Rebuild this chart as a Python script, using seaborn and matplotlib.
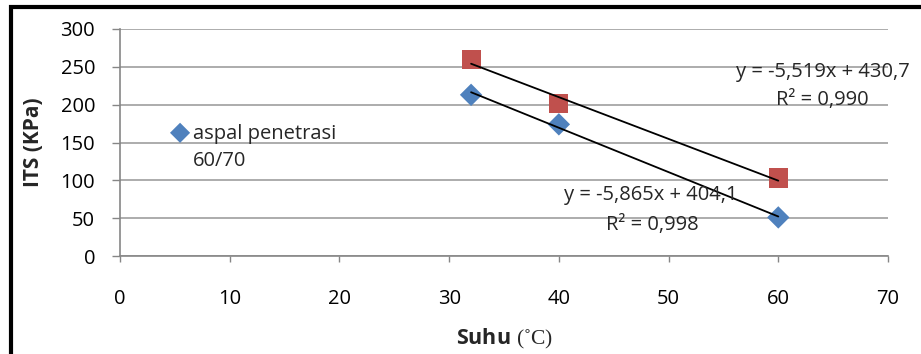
import matplotlib
matplotlib.use("Agg")
import matplotlib.pyplot as plt
import seaborn as sns
import numpy as np
import pandas as pd
from matplotlib.patches import Rectangle

# ---- data ----
suhu = [32, 40, 60]
its_blue = [213, 174, 51]      # aspal penetrasi 60/70
its_red = [260, 201, 103]
trend_slope = [-5.865, -5.519]
trend_intercept = [404.1, 430.7]
eq_lines = ["y = -5,865x + 404,1", "y = -5,519x + 430,7"]
r2_lines = ["R² = 0,998", "R² = 0,990"]
legend_label = "aspal penetrasi\n60/70"
x_ticks = [0, 10, 20, 30, 40, 50, 60, 70]
y_ticks = [0, 50, 100, 150, 200, 250, 300]

BLUE = "#4F81BD"
RED = "#C0504D"
GRID = "#A6A6A6"
AXC = "#868686"
FS = 14.5

sns.set_theme(style="white")
plt.rcParams["font.family"] = ["Open Sans", "DejaVu Sans"]
plt.rcParams["mathtext.fontset"] = "custom"
plt.rcParams["mathtext.rm"] = "Liberation Serif"

W, H = 921, 354
L, R, T, B = 120, 888, 29, 256
fig = plt.figure(figsize=(W/100, H/100), dpi=100)
ax = fig.add_axes([L/W, 1-B/H, (R-L)/W, (B-T)/H])


def px2data(px, py):
    return (px - L) / (R - L) * 70, (B - py) / (B - T) * 300


df_b = pd.DataFrame({"x": suhu, "y": its_blue})
df_r = pd.DataFrame({"x": suhu, "y": its_red})

sns.scatterplot(data=df_b, x="x", y="y", ax=ax, marker="D", s=130, color=BLUE,
                edgecolor="none", label=legend_label, zorder=3)
sns.scatterplot(data=df_r, x="x", y="y", ax=ax, marker="s", s=190, color=RED,
                edgecolor="none", zorder=3, legend=False)

# linear trend lines
for m, c in zip(trend_slope, trend_intercept):
    xs = np.array([min(suhu), max(suhu)])
    dft = pd.DataFrame({"x": xs, "y": m * xs + c})
    sns.lineplot(data=dft, x="x", y="y", ax=ax, color="black", linewidth=1.3,
                 zorder=4, legend=False)

ax.set_xlim(0, 70)
ax.set_ylim(0, 300)
ax.set_xticks(x_ticks)
ax.set_yticks(y_ticks)
ax.yaxis.grid(True, color=GRID, linewidth=1.3)
ax.xaxis.grid(False)
ax.set_axisbelow(True)
for s in ["top", "right"]:
    ax.spines[s].set_visible(False)
for s in ["left", "bottom"]:
    ax.spines[s].set_color(AXC)
    ax.spines[s].set_linewidth(1.2)
ax.tick_params(axis="y", direction="out", length=6, width=1, color=AXC,
               labelsize=FS, pad=12, left=True, labelcolor="black")
ax.tick_params(axis="x", direction="out", length=4, width=1, color=AXC,
               labelsize=FS, pad=20, bottom=True, labelcolor="black")

ax.set_ylabel("ITS (KPa)", fontsize=15, fontweight="bold")
ax.yaxis.set_label_coords(-(L-44)/(R-L), 0.5)
ax.set_xlabel(r"Suhu$\;\mathrm{(˚C)}$", fontsize=15.5, fontweight="bold")
ax.xaxis.set_label_coords((504-L)/(R-L), -(327-B)/(B-T))

# trendline equations
eq_pos = [((651, 195), (652, 225)), ((823, 72), (822, 100))]
for (p1, p2), e, r2 in zip(eq_pos, eq_lines, r2_lines):
    ax.text(*px2data(*p1), e, fontsize=FS, ha="center", va="center", zorder=5)
    ax.text(*px2data(*p2), r2, fontsize=FS, ha="center", va="center", zorder=5)

leg = ax.legend(loc="upper left", bbox_to_anchor=((171-L)/(R-L), (B-124)/(B-T)),
                frameon=False, fontsize=FS, handletextpad=0.2, borderaxespad=0,
                borderpad=0, handlelength=0.9, markerscale=0.9)
for col in leg._legend_handle_box.get_children():
    for hp in col.get_children():
        hp.align = "top"
for t in leg.get_texts():
    t.set_linespacing(1.45)

# outer frame (partly cut off)
fig.patches.append(Rectangle((10.5/W, -0.2), 2.0, 1.2 - 6.5/H, transform=fig.transFigure,
                             fill=False, edgecolor="black", linewidth=3, clip_on=False))

fig.savefig("out.png", dpi=100)
